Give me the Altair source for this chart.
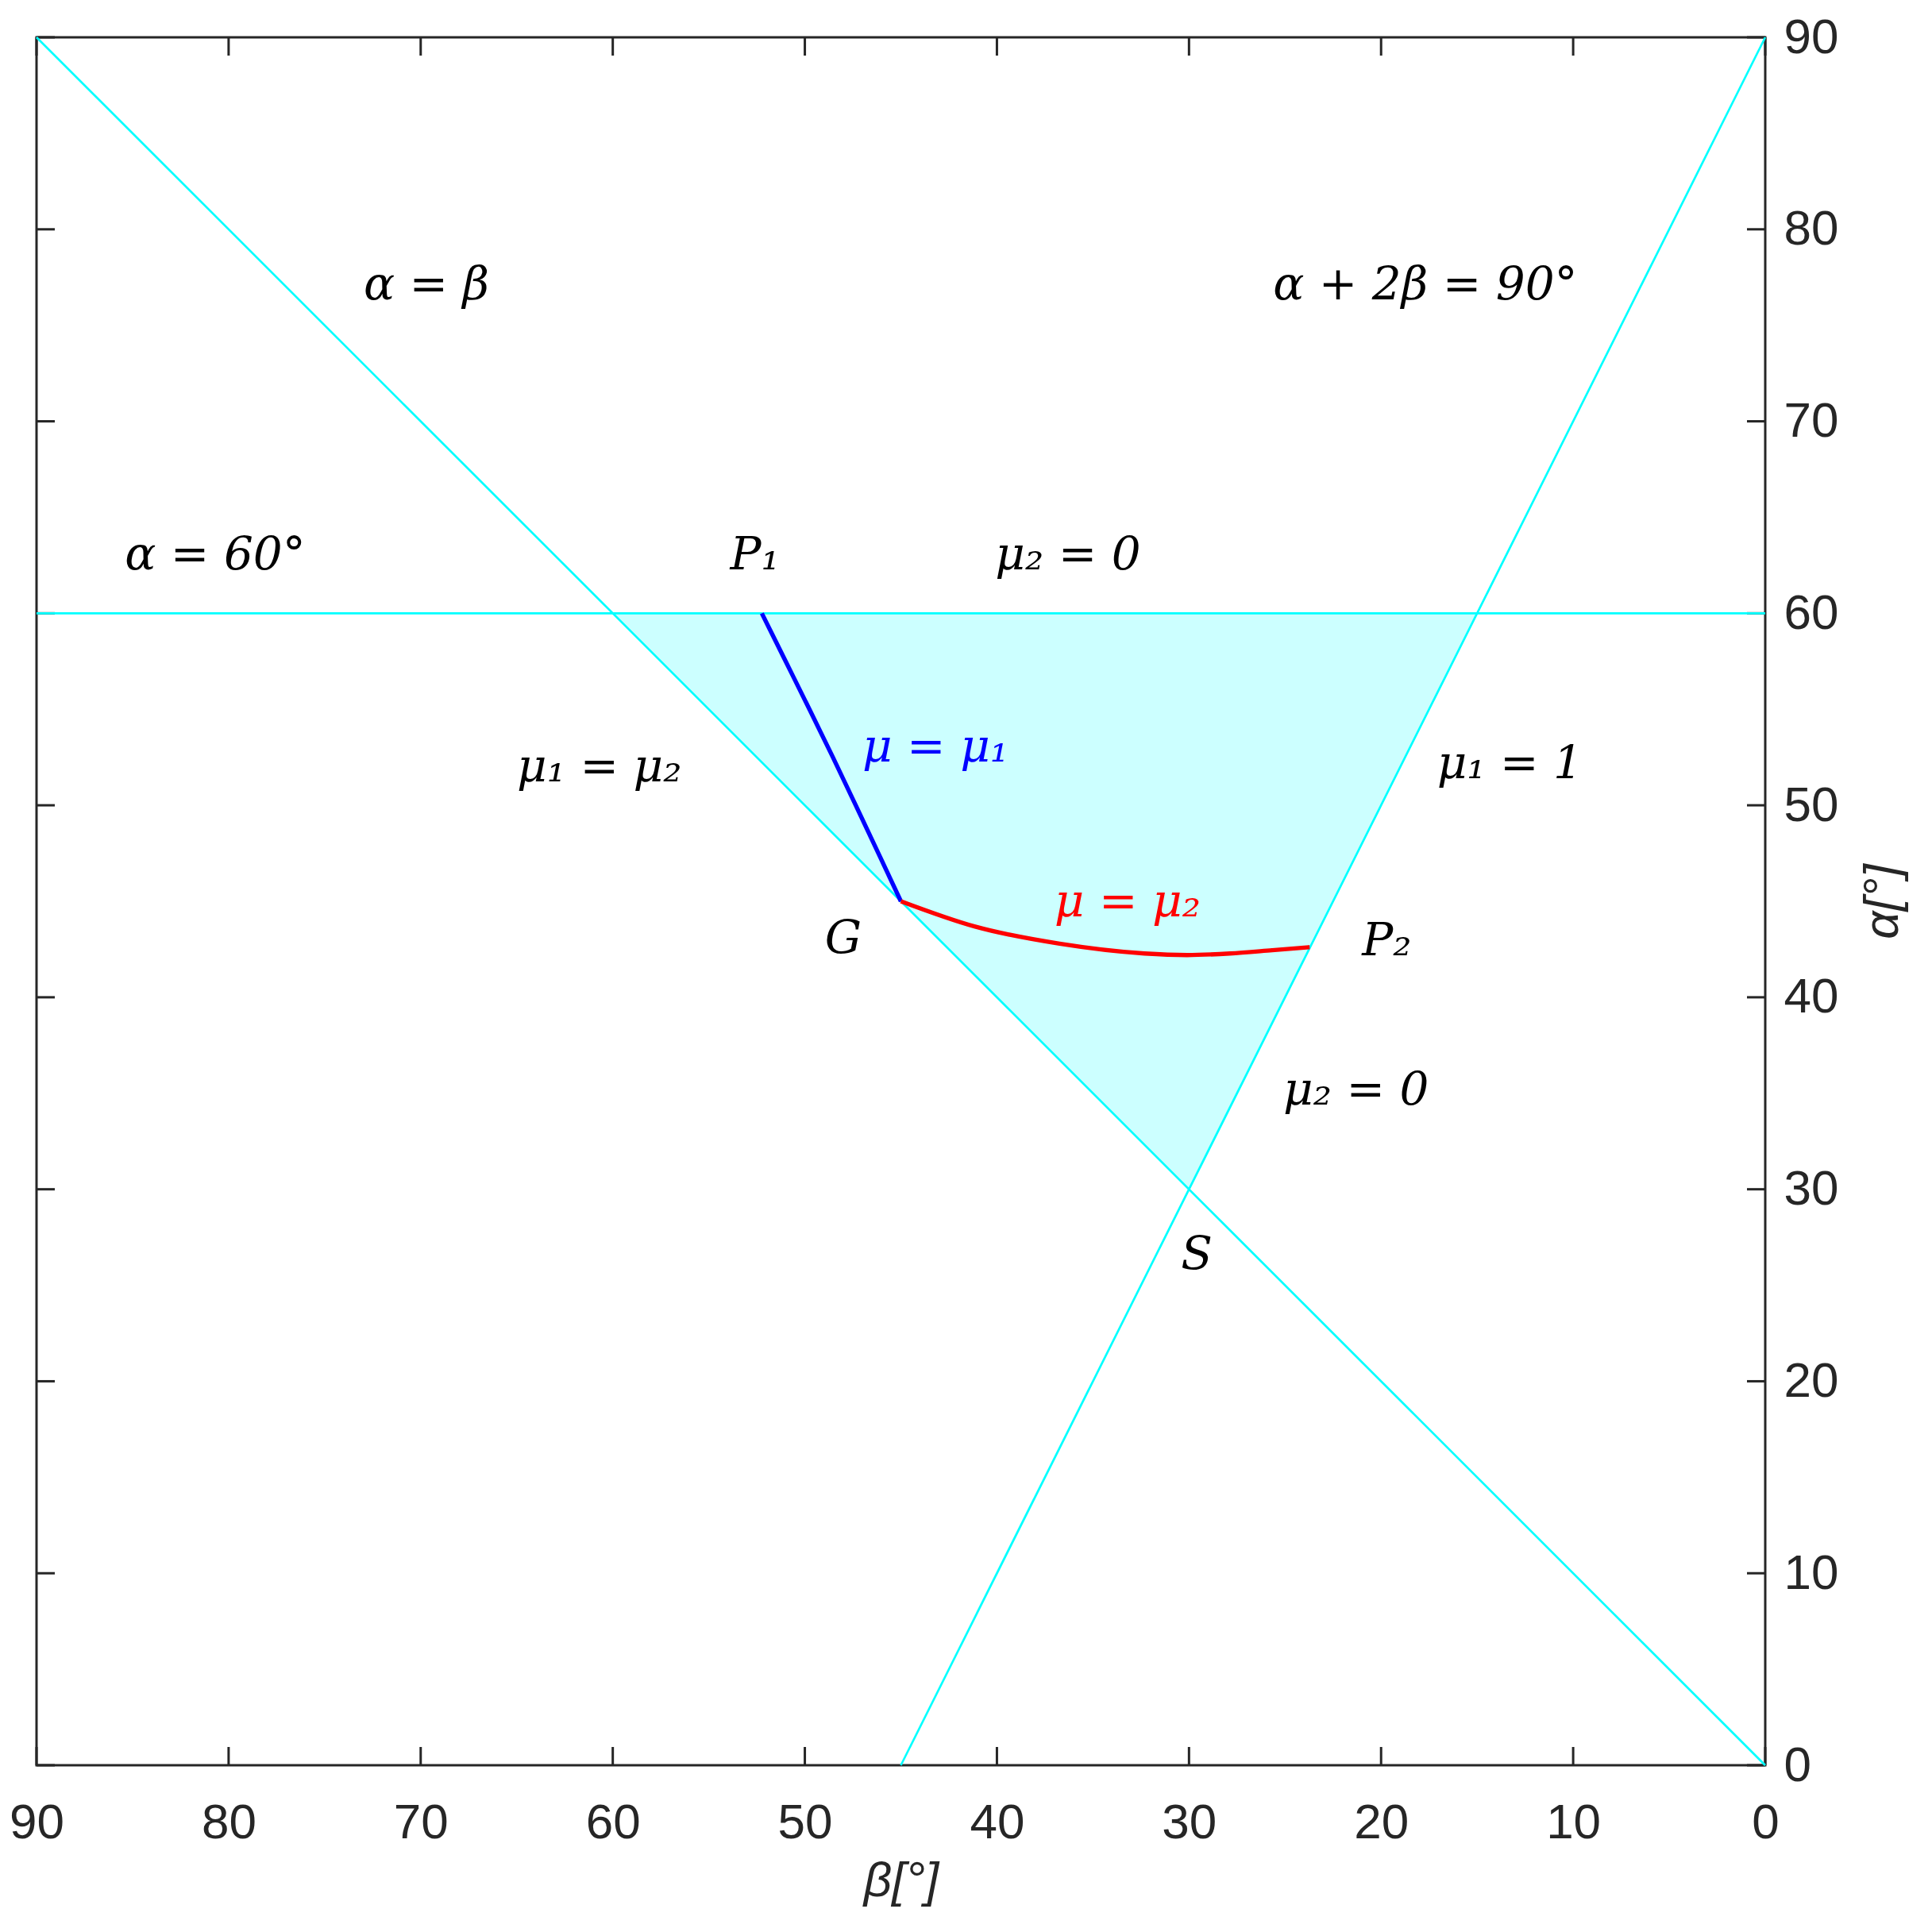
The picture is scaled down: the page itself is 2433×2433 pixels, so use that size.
import altair as alt
import pandas as pd

# ---- data (degrees) ----
tick_values = [0, 10, 20, 30, 40, 50, 60, 70, 80, 90]

# boundary lines
diag_beta = [90, 0]          # alpha = beta
diag_alpha = [90, 0]
slope_beta = [45, 0]         # alpha + 2 beta = 90
slope_alpha = [0, 90]
horiz_beta = [90, 0]         # alpha = 60
horiz_alpha = [60, 60]

# shaded region
region_beta = [60, 30, 15]
region_top = [60, 60, 60]
region_bottom = [60, 30, 60]

# mu = mu1 curve (blue)
blue_beta = [52.24, 51.0, 49.76, 48.54, 47.35, 46.17, 45.0]
blue_alpha = [60.0, 57.5, 55.0, 52.5, 50.0, 47.5, 45.0]

# mu = mu2 curve (red)
red_beta = [45.0, 41.17, 36.74, 32.31, 30.10, 27.88, 25.67, 23.72]
red_alpha = [45.0, 43.69, 42.79, 42.28, 42.20, 42.28, 42.45, 42.61]

# annotations
label_text = ["α = β", "α + 2β = 90°", "α = 60°", "P₁", "μ₂ = 0",
              "μ₁ = μ₂", "μ₁ = 1", "G", "P₂", "μ₂ = 0", "S"]
label_beta = [69.7, 17.7, 80.7, 52.6, 36.3, 60.7, 13.3, 48.0, 19.7, 21.3, 29.6]
label_alpha = [76.35, 76.35, 62.3, 62.3, 62.3, 51.25, 51.4, 42.3, 42.2, 34.4, 25.85]

blue_label_text = ["μ = μ₁"]
blue_label_beta = [43.2]
blue_label_alpha = [52.3]

red_label_text = ["μ = μ₂"]
red_label_beta = [33.2]
red_label_alpha = [44.2]

# ---- frames ----
W, H = 2177, 2176
ticks_df = pd.DataFrame({"v": tick_values})
diag_df = pd.DataFrame({"beta": diag_beta, "alpha": diag_alpha})
slope_df = pd.DataFrame({"beta": slope_beta, "alpha": slope_alpha})
horiz_df = pd.DataFrame({"beta": horiz_beta, "alpha": horiz_alpha})
region_df = pd.DataFrame({"beta": region_beta, "alpha": region_top, "bottom": region_bottom})
blue_df = pd.DataFrame({"beta": blue_beta, "alpha": blue_alpha})
red_df = pd.DataFrame({"beta": red_beta, "alpha": red_alpha})
lab_df = pd.DataFrame({"t": label_text, "beta": label_beta, "alpha": label_alpha})
blab_df = pd.DataFrame({"t": blue_label_text, "beta": blue_label_beta, "alpha": blue_label_alpha})
rlab_df = pd.DataFrame({"t": red_label_text, "beta": red_label_beta, "alpha": red_label_alpha})

AX = "#262626"
xscale = alt.Scale(domain=[0, 90], reverse=True, nice=False, zero=False)
yscale = alt.Scale(domain=[0, 90], nice=False, zero=False)

x_axis = alt.Axis(values=tick_values, orient="bottom", domain=False, ticks=False, tickSize=0,
                  grid=False, labelFont="Liberation Sans", labelFontSize=62, labelColor=AX,
                  labelPadding=42, labelFlush=False, labelOverlap=False,
                  title="β[°]", titleFont="Liberation Sans", titleFontSize=62,
                  titleFontStyle="italic", titleFontWeight="normal", titleColor=AX,
                  titleBaseline="top", titleY=115, titleX=W / 2)
y_axis = alt.Axis(values=tick_values, orient="right", domain=False, ticks=False, tickSize=0,
                  grid=False, labelFont="Liberation Sans", labelFontSize=62, labelColor=AX,
                  labelPadding=23, labelFlush=False, labelOverlap=False,
                  title="α[°]", titleFont="Liberation Sans", titleFontSize=62,
                  titleFontStyle="italic", titleFontWeight="normal", titleColor=AX,
                  titleAngle=270, titleBaseline="middle", titleAlign="center",
                  titleX=147, titleY=H / 2)

X = lambda f: alt.X(f, scale=xscale, axis=x_axis)
Y = lambda f: alt.Y(f, scale=yscale, axis=y_axis)

TL = 23
tick_style = dict(color=AX, strokeWidth=3)
tb = alt.Chart(ticks_df).mark_rule(**tick_style).encode(
    x=X("v:Q"), y=alt.value(H), y2=alt.value(H - TL))
tt = alt.Chart(ticks_df).mark_rule(**tick_style).encode(
    x=X("v:Q"), y=alt.value(0), y2=alt.value(TL))
tl = alt.Chart(ticks_df).mark_rule(**tick_style).encode(
    y=Y("v:Q"), x=alt.value(0), x2=alt.value(TL))
tr = alt.Chart(ticks_df).mark_rule(**tick_style).encode(
    y=Y("v:Q"), x=alt.value(W), x2=alt.value(W - TL))

region = alt.Chart(region_df).mark_area(color="#CCFFFF", opacity=1).encode(
    x=X("beta:Q"), y=Y("alpha:Q"), y2="bottom:Q",
)

def cyan_line(df):
    return alt.Chart(df).mark_line(color="#00FFFF", strokeWidth=2.7).encode(
        x=X("beta:Q"), y=Y("alpha:Q"))

blue = alt.Chart(blue_df).mark_line(color="#0000FF", strokeWidth=5.4,
                                    interpolate="monotone").encode(
    x=X("beta:Q"), y=Y("alpha:Q"))
red = alt.Chart(red_df).mark_line(color="#FF0000", strokeWidth=5.4,
                                  interpolate="monotone").encode(
    x=X("beta:Q"), y=Y("alpha:Q"))

def labels(df, color):
    return alt.Chart(df).mark_text(font="DejaVu Serif", fontStyle="italic", fontSize=58,
                                   align="center", baseline="alphabetic", color=color).encode(
        x=X("beta:Q"), y=Y("alpha:Q"), text="t:N")

chart = alt.layer(
    region, tb, tt, tl, tr,
    cyan_line(diag_df), cyan_line(slope_df), cyan_line(horiz_df),
    blue, red,
    labels(lab_df, "#000000"), labels(blab_df, "#0000FF"), labels(rlab_df, "#FF0000"),
).properties(
    width=W, height=H,
    autosize=alt.AutoSizeParams(type="none"),
    padding={"left": 38, "top": 39, "right": 200, "bottom": 200},
    background="white",
).configure_view(stroke=AX, strokeWidth=3)

chart.save("out.html", embed_options={"renderer": "svg", "actions": False})
